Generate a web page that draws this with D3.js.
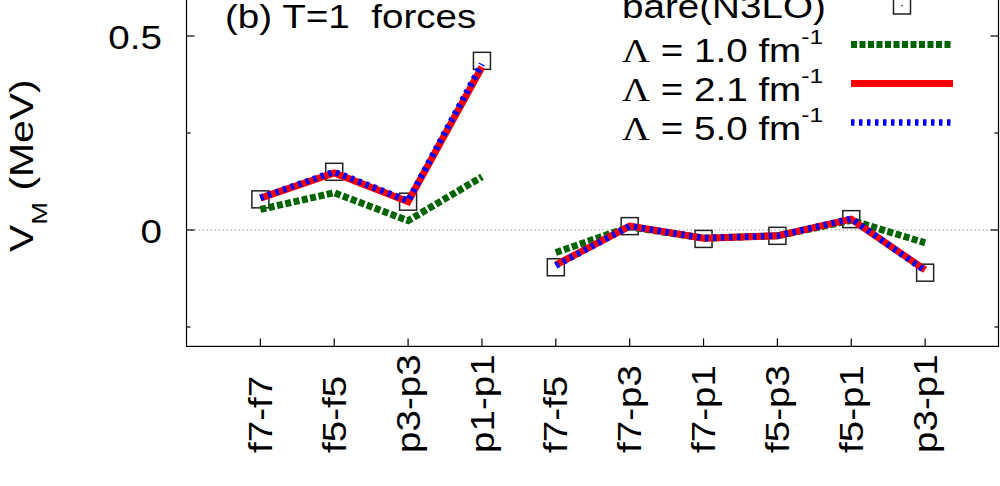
<!DOCTYPE html>
<html>
<head>
<meta charset="utf-8">
<script src="https://cdn.jsdelivr.net/npm/d3@7"></script>
<style>
  body { margin: 0; background: #fff; }
  svg { display: block; font-family: "Liberation Sans", Arial, sans-serif; }
  text { white-space: pre; fill: #000; }
</style>
</head>
<body>
<svg id="chart" width="1000" height="486"></svg>
<script>
// data
const categories = ["f7-f7", "f5-f5", "p3-p3", "p1-p1", "f7-f5", "f7-p3", "f7-p1", "f5-p3", "f5-p1", "p3-p1"];
const bare  = [0.079, 0.150, 0.073, 0.436, -0.096, 0.010, -0.023, -0.015, 0.028, -0.110];
const lam10 = [0.053, 0.096, 0.024, 0.137, -0.058, 0.008, -0.021, -0.015, 0.025, -0.033];
const lam21 = [0.082, 0.147, 0.073, 0.420, -0.090, 0.010, -0.021, -0.015, 0.028, -0.103];
const lam50 = [0.083, 0.150, 0.075, 0.428, -0.092, 0.010, -0.021, -0.015, 0.029, -0.105];
const groups = [[0, 3], [4, 9]];   // lines are broken between p1-p1 and f7-f5
const yMajor = [0.5, 0];
const yMinor = [0.25, -0.25];
const legendNames = ["1.0", "2.1", "5.0"];

const svg = d3.select("#chart");
const SX = 1.17;   // the fonts in the original are a bit wider than Arial
const fs = 33;

const left = 186.5, right = 998.5, bottom = 346.4;

const x = d3.scaleLinear().domain([0, 11]).range([186.5, 999]);
const y = d3.scaleLinear().domain([-0.3, 0.6]).range([346.4, -2.8]);

// zero line
svg.append("line")
    .attr("x1", left).attr("x2", right)
    .attr("y1", y(0)).attr("y2", y(0))
    .attr("stroke", "#999").attr("stroke-width", 1)
    .attr("stroke-dasharray", "1.5,2.5");

// frame
svg.append("rect")
    .attr("x", left).attr("y", y(0.6))
    .attr("width", right - left).attr("height", y(-0.3) - y(0.6))
    .attr("fill", "none").attr("stroke", "#000").attr("stroke-width", 1.2);

// x ticks
svg.selectAll(".xt").data(categories).enter().append("line")
    .attr("x1", (d, i) => x(i + 1)).attr("x2", (d, i) => x(i + 1))
    .attr("y1", bottom).attr("y2", bottom - 8)
    .attr("stroke", "#000").attr("stroke-width", 1.2);

// y ticks, both sides
for (const side of [left, right]) {
    const dir = side === left ? 1 : -1;
    yMajor.forEach(v => svg.append("line")
        .attr("x1", side).attr("x2", side + dir * 8)
        .attr("y1", y(v)).attr("y2", y(v))
        .attr("stroke", "#000").attr("stroke-width", 1.2));
    yMinor.forEach(v => svg.append("line")
        .attr("x1", side).attr("x2", side + dir * 4)
        .attr("y1", y(v)).attr("y2", y(v))
        .attr("stroke", "#000").attr("stroke-width", 1.2));
}

// y tick labels
yMajor.forEach(v => {
    svg.append("g")
        .attr("transform", `translate(162,${y(v) + 13}) scale(${SX},1)`)
        .append("text")
        .attr("text-anchor", "end")
        .attr("font-size", fs)
        .text(v === 0 ? "0" : d3.format(".1f")(v));
});

// x tick labels, rotated
categories.forEach((c, i) => {
    svg.append("g")
        .attr("transform", `translate(${x(i + 1)},453) rotate(-90) scale(${SX},1)`)
        .append("text")
        .attr("text-anchor", "start")
        .attr("dy", "0.35em")
        .attr("font-size", fs)
        .text(c);
});

// y axis title
const yt = svg.append("g")
    .attr("transform", `translate(33,252) rotate(-90) scale(1.24,1)`)
    .append("text").attr("font-size", fs);
yt.append("tspan").text("V");
yt.append("tspan").attr("font-size", 22).attr("dy", 14).text("M");
yt.append("tspan").attr("dy", -14).text(" (MeV)");

// panel title
svg.append("g")
    .attr("transform", `translate(225,28) scale(${SX},1)`)
    .append("text").attr("font-size", fs)
    .text("(b) T=1  forces");

// series
const styles = [
    { data: lam10, color: "#006400", width: 7, dash: "6,2.5" },
    { data: lam21, color: "#ff0000", width: 7, dash: null },
    { data: lam50, color: "#0000ff", width: 6.5, dash: "3.5,4.5" }
];

// bare squares under the lines
svg.selectAll(".sq").data(bare).enter().append("rect")
    .attr("x", (d, i) => x(i + 1) - 8.5)
    .attr("y", d => y(d) - 8.5)
    .attr("width", 17).attr("height", 17)
    .attr("fill", "none").attr("stroke", "#222").attr("stroke-width", 1.5);

const line = d3.line().x(d => x(d.i + 1)).y(d => y(d.v));

styles.forEach(s => {
    groups.forEach(([a, b]) => {
        const pts = s.data.map((v, i) => ({ i, v })).filter(d => d.i >= a && d.i <= b);
        svg.append("path")
            .attr("d", line(pts))
            .attr("fill", "none")
            .attr("stroke", s.color)
            .attr("stroke-width", s.width)
            .attr("stroke-dasharray", s.dash)
            .attr("stroke-linejoin", "miter");
    });
});

// legend
const legX = 622, sampleX1 = 851, sampleX2 = 953;
const rowY = i => 5.5 + 39 * i;

svg.append("rect")
    .attr("x", 902 - 8.5).attr("y", rowY(0) - 8.5)
    .attr("width", 17).attr("height", 17)
    .attr("fill", "none").attr("stroke", "#222").attr("stroke-width", 1.5);
svg.append("circle").attr("cx", 902).attr("cy", rowY(0)).attr("r", 0.8).attr("fill", "#222");

svg.append("g")
    .attr("transform", `translate(${legX},18) scale(${SX},1)`)
    .append("text").attr("font-size", fs)
    .text("bare(N3LO)");

legendNames.forEach((name, k) => {
    const s = styles[k];
    const ry = rowY(k + 1);
    svg.append("line")
        .attr("x1", sampleX1).attr("x2", sampleX2)
        .attr("y1", ry).attr("y2", ry)
        .attr("stroke", s.color)
        .attr("stroke-width", s.width)
        .attr("stroke-dasharray", s.dash);

    const t = svg.append("g")
        .attr("transform", `translate(${legX},${ry + 17}) scale(${SX},1)`)
        .append("text").attr("font-size", fs);
    t.append("tspan").attr("font-family", "'Liberation Serif', 'Times New Roman', serif").text("\u039B");
    t.append("tspan").text(" = " + name + " fm");
    t.append("tspan").attr("font-size", 21).attr("dy", -18).text("-1");
});
</script>
</body>
</html>
